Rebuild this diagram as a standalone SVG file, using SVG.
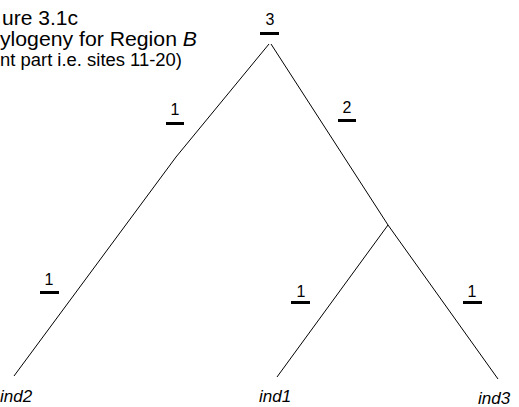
<svg xmlns="http://www.w3.org/2000/svg" width="519" height="407" viewBox="0 0 519 407">
<style>
.t{font-family:"Liberation Sans",Arial,sans-serif;fill:#000}
.lbl{font-family:"Liberation Sans",Arial,sans-serif;font-size:16px;text-anchor:middle;fill:#000}
.leaf{font-family:"Liberation Sans",Arial,sans-serif;font-size:17px;font-style:italic;fill:#000}
.bar{fill:#000}
.edge{fill:none;stroke:#000;stroke-width:1}
</style>
<rect width="519" height="407" fill="#fff"/>
<g id="title">
<text class="t" x="2" y="25" font-size="21" textLength="76" lengthAdjust="spacingAndGlyphs">ure 3.1c</text>
<text class="t" x="0" y="46" font-size="21" textLength="197" lengthAdjust="spacingAndGlyphs">ylogeny for Region <tspan font-style="italic">B</tspan></text>
<text class="t" x="0" y="66" font-size="17.5" textLength="182" lengthAdjust="spacingAndGlyphs">nt part i.e. sites 11-20)</text>
</g>
<g id="connectors">
<polyline class="edge" points="269,44 176,157 14,376"/>
<polyline class="edge" points="271,44 388,225 498,379"/>
<line class="edge" x1="388" y1="225" x2="277" y2="377"/>
</g>
<g id="root">
<text class="lbl" x="270" y="25" font-size="14">3</text>
<rect class="bar" x="260" y="32" width="19" height="3"/>
</g>
<g id="edge-label-left-upper">
<text class="lbl" x="175" y="115">1</text>
<rect class="bar" x="166" y="122" width="18" height="3"/>
</g>
<g id="edge-label-right-upper">
<text class="lbl" x="347" y="113">2</text>
<rect class="bar" x="338" y="119" width="18" height="3"/>
</g>
<g id="edge-label-left-lower">
<text class="lbl" x="49" y="285">1</text>
<rect class="bar" x="40" y="291" width="19" height="3"/>
</g>
<g id="edge-label-ind1">
<text class="lbl" x="301" y="297">1</text>
<rect class="bar" x="291" y="301" width="19" height="3"/>
</g>
<g id="edge-label-ind3">
<text class="lbl" x="472" y="297">1</text>
<rect class="bar" x="463" y="301" width="19" height="3"/>
</g>
<g id="ind2"><text class="leaf" x="0" y="402">ind2</text></g>
<g id="ind1"><text class="leaf" x="259" y="402">ind1</text></g>
<g id="ind3"><text class="leaf" x="478" y="404">ind3</text></g>
</svg>
